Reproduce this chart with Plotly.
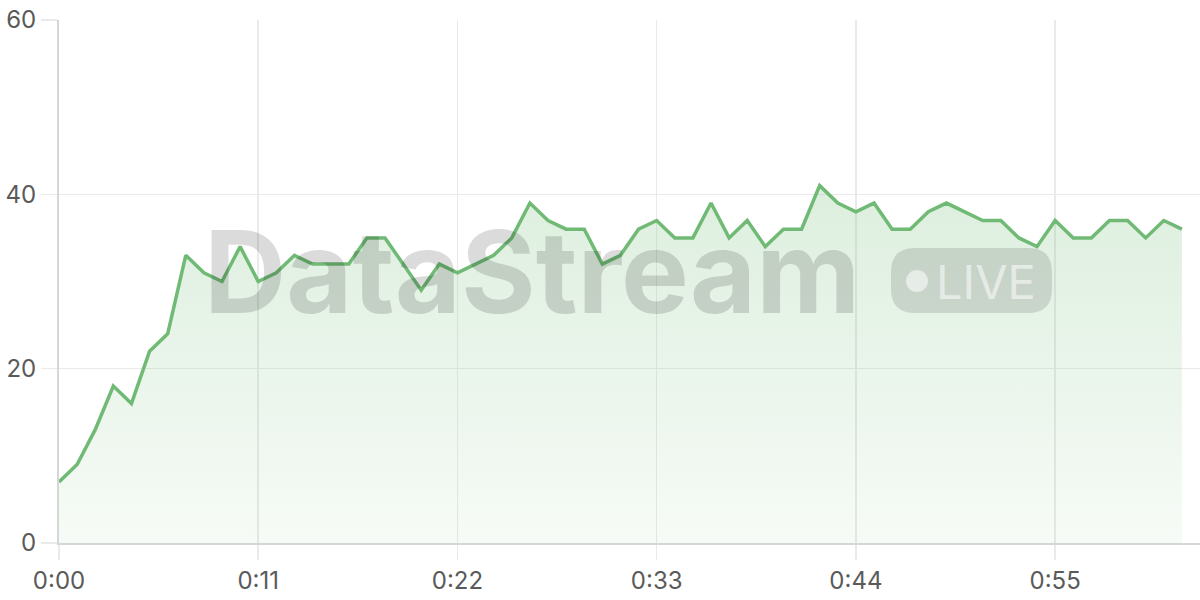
import plotly.graph_objects as go

# ---- data ----
seconds = list(range(63))
values = [7, 9, 13, 18, 16, 22, 24, 33, 31, 30, 34, 30, 31, 33, 32, 32, 32, 35, 35, 32,
          29, 32, 31, 32, 33, 35, 39, 37, 36, 36, 32, 33, 36, 37, 35, 35, 39, 35, 37, 34,
          36, 36, 41, 39, 38, 39, 36, 36, 38, 39, 38, 37, 37, 35, 34, 37, 35, 35, 37, 37,
          35, 37, 36]
x_tick_vals = [0, 11, 22, 33, 44, 55]
x_tick_text = ["0:00", "0:11", "0:22", "0:33", "0:44", "0:55"]
y_tick_vals = [0, 20, 40, 60]

W, H = 1200, 600
# plot area in page pixels
PL, PR, PT, PB = 59, 1200, 20, 543
PW, PH = PR - PL, PB - PT


def px(x):
    return (x - PL) / PW


def py(y):
    return (PB - y) / PH


LINE = "rgb(112,186,117)"
FONT = "Inter, Helvetica Neue, Arial, sans-serif"

fig = go.Figure()
fig.add_trace(go.Scatter(
    x=seconds, y=values, mode="lines",
    line=dict(color=LINE, width=3.5),
    fill="tozeroy",
    fillgradient=dict(type="vertical", start=0, stop=max(values),
                      colorscale=[[0, "rgba(112,186,117,0.06)"],
                                  [1, "rgba(112,186,117,0.24)"]]),
    hoverinfo="skip", showlegend=False,
))

# watermark
fig.add_annotation(xref="paper", yref="paper", x=px(532), y=py(271),
                   text="<b>DataStream</b>", showarrow=False,
                   xanchor="center", yanchor="middle",
                   font=dict(family=FONT, size=114, color="rgba(0,0,0,0.14)"))

x0, x1, y0, y1 = 891, 1052, 248, 313
r = 24
path = (f"M {px(x0 + r)} {py(y0)} L {px(x1 - r)} {py(y0)} "
        f"Q {px(x1)} {py(y0)} {px(x1)} {py(y0 + r)} L {px(x1)} {py(y1 - r)} "
        f"Q {px(x1)} {py(y1)} {px(x1 - r)} {py(y1)} L {px(x0 + r)} {py(y1)} "
        f"Q {px(x0)} {py(y1)} {px(x0)} {py(y1 - r)} L {px(x0)} {py(y0 + r)} "
        f"Q {px(x0)} {py(y0)} {px(x0 + r)} {py(y0)} Z")
fig.add_shape(type="path", path=path, xref="paper", yref="paper",
              fillcolor="rgba(0,0,0,0.12)", line=dict(width=0))
fig.add_shape(type="circle", xref="paper", yref="paper",
              x0=px(906), x1=px(928), y0=py(292), y1=py(270),
              fillcolor="rgba(255,255,255,0.55)", line=dict(width=0))
fig.add_annotation(xref="paper", yref="paper", x=px(986), y=py(281),
                   text="LIVE", showarrow=False, xanchor="center", yanchor="middle",
                   font=dict(family=FONT, size=47, color="rgba(255,255,255,0.55)"))

GRID = "rgb(234,234,234)"
fig.update_layout(
    width=W, height=H,
    margin=dict(l=PL, r=W - PR, t=PT, b=H - PB, pad=0, autoexpand=False),
    paper_bgcolor="white", plot_bgcolor="white",
    font=dict(family=FONT, size=24, color="rgb(90,90,90)"),
    xaxis=dict(range=[0, 63], tickvals=x_tick_vals, ticktext=x_tick_text,
               showgrid=True, gridcolor=GRID, gridwidth=1.5,
               ticks="outside", ticklen=15, tickcolor=GRID, tickwidth=1.5,
               showline=True, linecolor="rgb(214,214,214)", linewidth=2,
               zeroline=False, fixedrange=True, automargin=False,
               ticklabeloverflow="allow"),
    yaxis=dict(range=[0, 60], tickvals=y_tick_vals,
               showgrid=True, gridcolor=GRID, gridwidth=1.5,
               ticks="outside", ticklen=16, tickcolor=GRID, tickwidth=1.5,
               ticklabelstandoff=0,
               showline=True, linecolor="rgb(214,214,214)", linewidth=2,
               zeroline=False, fixedrange=True, automargin=False,
               ticklabeloverflow="allow"),
)

fig.write_html("out.html",
               config={"displayModeBar": False, "staticPlot": True},
               post_script="document.body.style.margin='0';"
                           "document.body.style.overflow='hidden';")
